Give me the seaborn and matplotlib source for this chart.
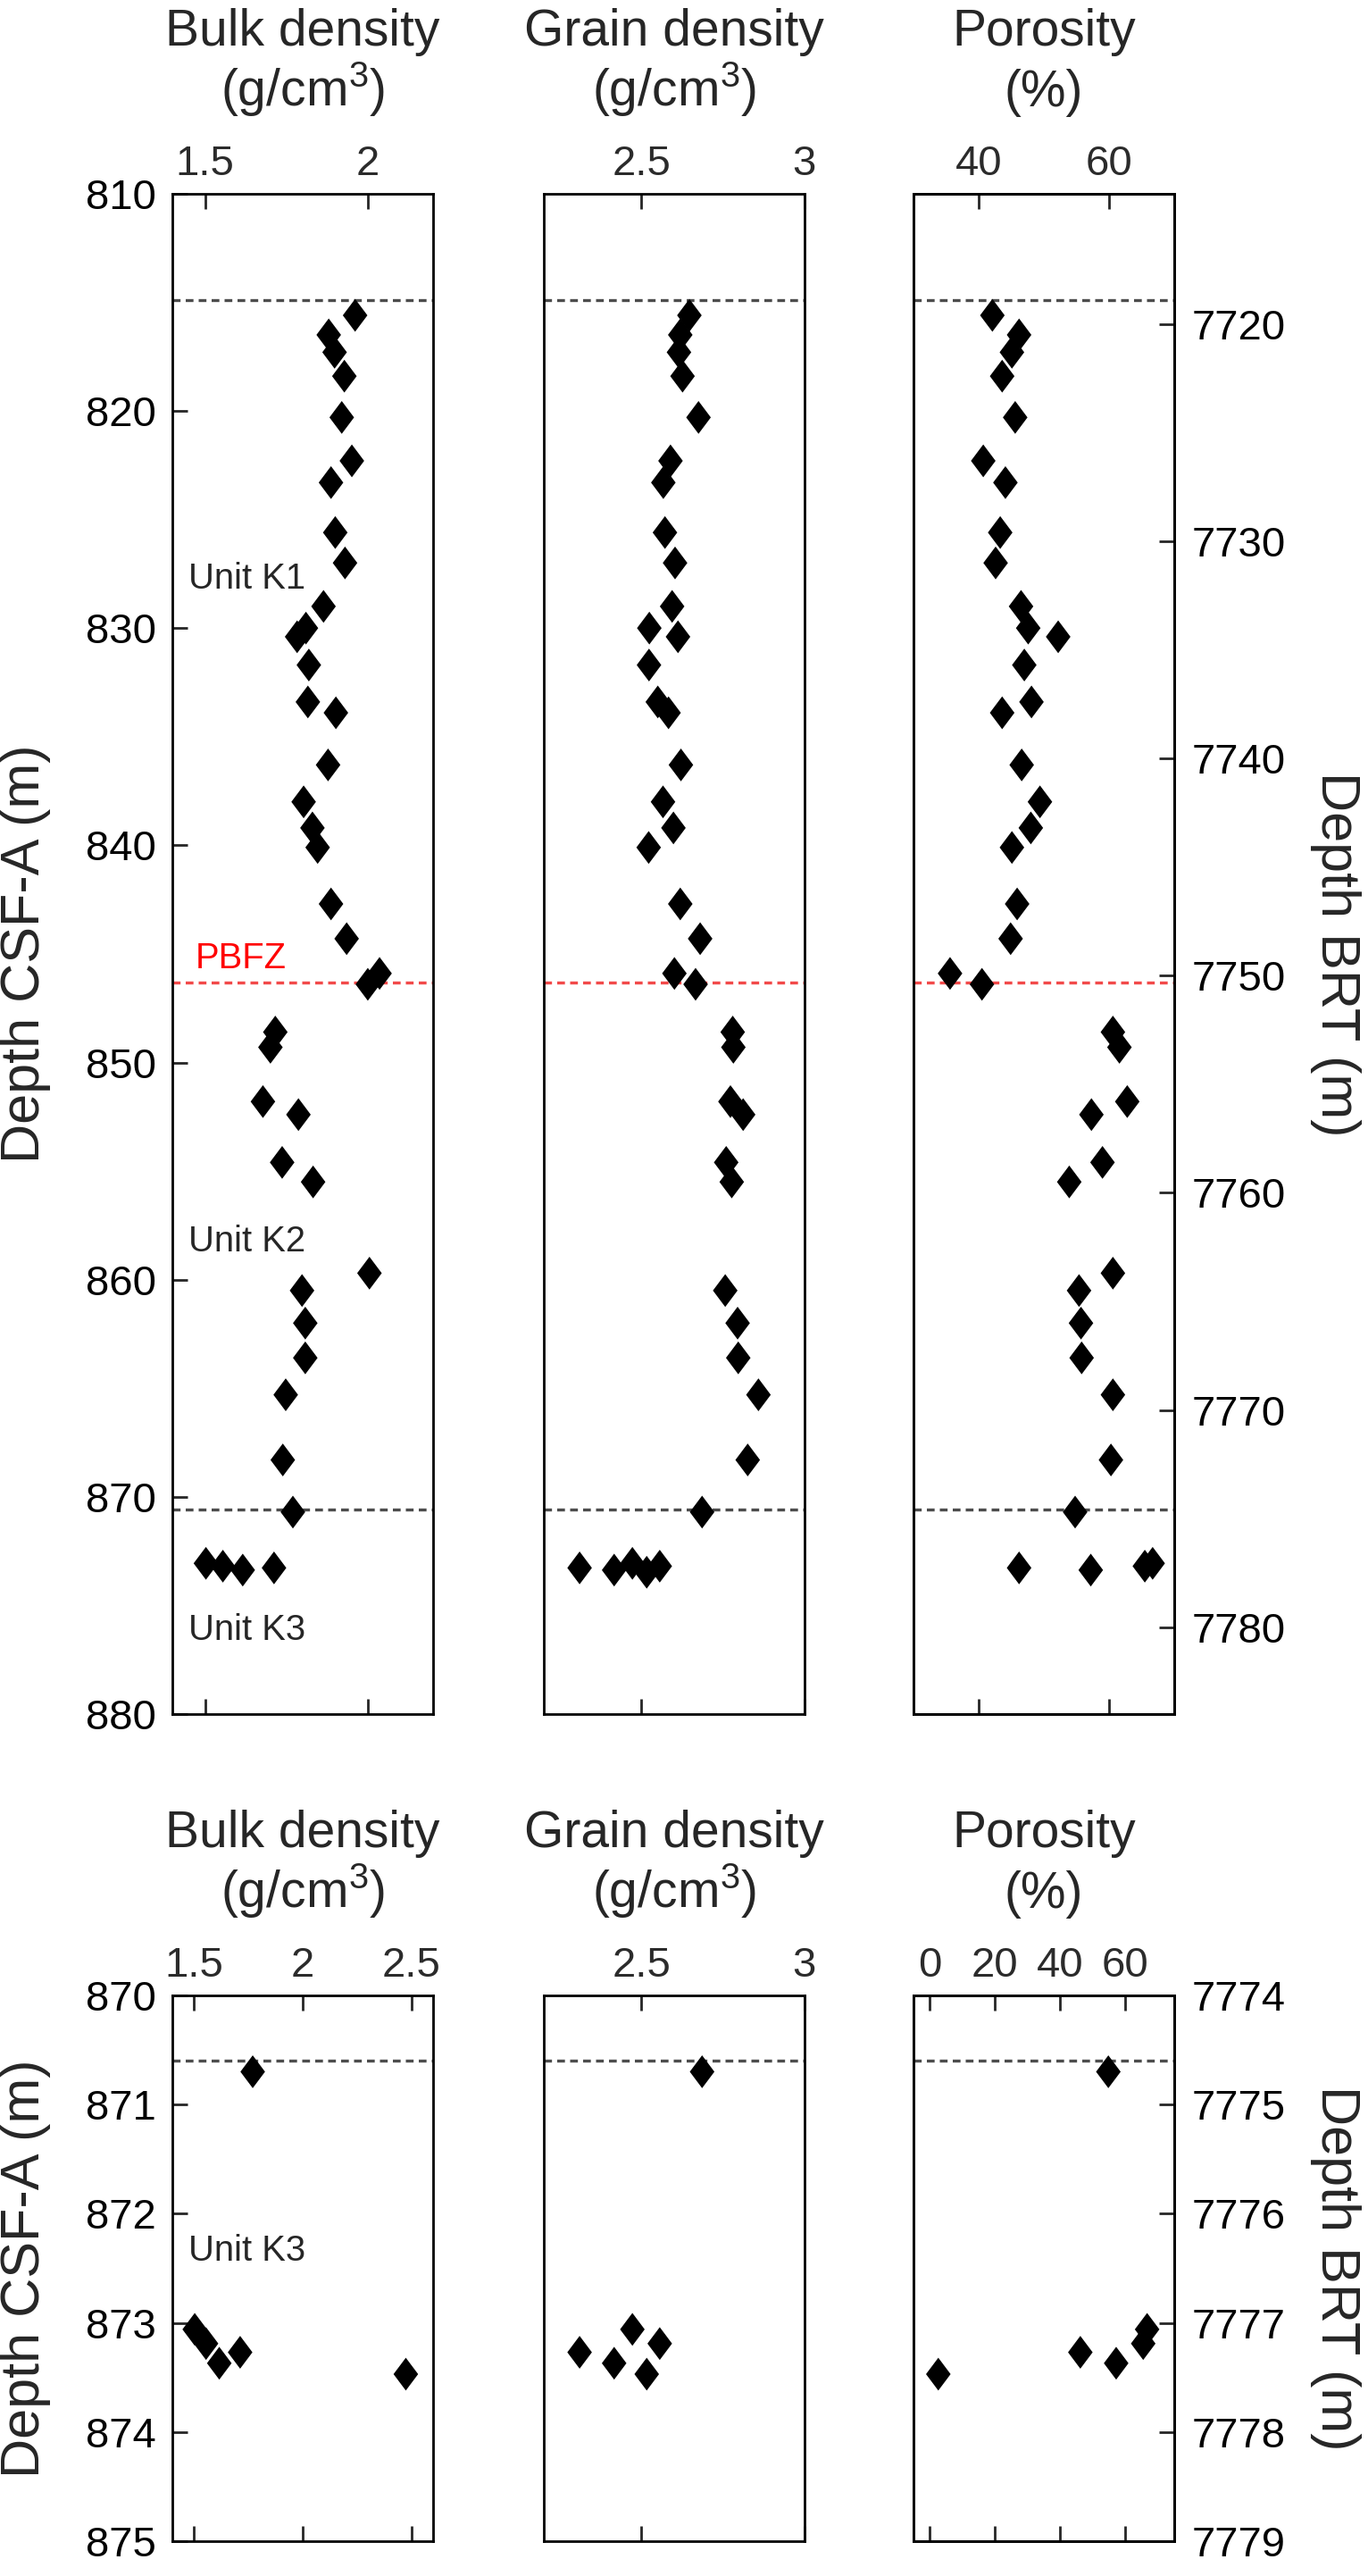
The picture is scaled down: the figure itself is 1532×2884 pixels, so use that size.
import numpy as np
import pandas as pd
import matplotlib
matplotlib.use("Agg")
import matplotlib.pyplot as plt
import seaborn as sns
from matplotlib.ticker import FormatStrFormatter

# ---------------- data ----------------
depth_csf = [815.6, 816.5, 817.3, 818.4, 820.3, 822.3, 823.3, 825.6, 827.0, 829.0,
             830.0, 830.4, 831.7, 833.4, 833.9, 836.3, 838.0, 839.2, 840.1, 842.7,
             844.3, 845.9, 846.4, 848.6, 849.3, 851.8, 852.4, 854.6, 855.5, 859.7,
             860.5, 862.0, 863.6, 865.3, 868.3,
             870.70, 873.06, 873.19, 873.27, 873.37, 873.47]

bulk_density = [1.961, 1.880, 1.898, 1.928, 1.920, 1.951, 1.887, 1.900, 1.930, 1.864,
                1.810, 1.783, 1.819, 1.816, 1.902, 1.878, 1.803, 1.830, 1.846, 1.887,
                1.935, 2.036, 2.000, 1.716, 1.701, 1.678, 1.787, 1.737, 1.832, 2.005,
                1.798, 1.808, 1.808, 1.748, 1.739,
                1.770, 1.503, 1.555, 1.712, 1.616, 2.475]

grain_density = [2.647, 2.619, 2.615, 2.626, 2.675, 2.589, 2.567, 2.572, 2.603, 2.594,
                 2.524, 2.612, 2.523, 2.550, 2.583, 2.621, 2.566, 2.598, 2.522, 2.619,
                 2.680, 2.601, 2.666, 2.780, 2.782, 2.773, 2.812, 2.760, 2.777, np.nan,
                 2.757, 2.795, 2.797, 2.859, 2.826,
                 2.686, 2.472, 2.556, 2.310, 2.416, 2.516]

porosity = [42.1, 46.2, 45.1, 43.6, 45.6, 40.7, 44.1, 43.3, 42.6, 46.5,
            47.6, 52.2, 47.0, 48.1, 43.6, 46.6, 49.4, 48.0, 45.1, 45.9,
            44.9, 35.6, 40.5, 60.6, 61.6, 62.8, 57.3, 59.0, 53.9, 60.6,
            55.4, 55.7, 55.8, 60.6, 60.3,
            54.8, 66.7, 65.5, 46.2, 57.2, 2.6]

brt_offset = 6904            # Depth BRT = Depth CSF-A + offset
unit_tops = [814.9, 870.6]   # black dashed boundaries
pbfz_depth = 846.3           # red dashed boundary

df = pd.DataFrame({"depth": depth_csf, "bulk": bulk_density,
                   "grain": grain_density, "porosity": porosity})

title_line1 = ["Bulk density", "Grain density", "Porosity"]
title_line2 = ["(g/cm$^3$)", "(g/cm$^3$)", "(%)"]
columns = ["bulk", "grain", "porosity"]
top_xlims = [(1.4, 2.2), (2.2, 3.0), (30, 70)]
top_xticks = [[1.5, 2], [2.5, 3], [40, 60]]
bot_xlims = [(1.4, 2.6), (2.2, 3.0), (-5, 75)]
bot_xticks = [[1.5, 2, 2.5], [2.5, 3], [0, 20, 40, 60]]

# ---------------- style ----------------
sns.set_style("white")
plt.rcParams["font.family"] = ["Liberation Sans", "DejaVu Sans"]
plt.rcParams["mathtext.fontset"] = "custom"
plt.rcParams["mathtext.rm"] = "Liberation Sans"
plt.rcParams["mathtext.it"] = "Liberation Sans:italic"
plt.rcParams["axes.linewidth"] = 1.0
plt.rcParams["axes.edgecolor"] = "black"

diamond = [(0, 1), (0.75, 0), (0, -1), (-0.75, 0)]
marker_area = 175
dash = (0, (2.6, 1.75))
tick_size = 17

fig = plt.figure(figsize=(7.66, 14.42), dpi=200)
lefts = [0.126, 0.3975, 0.6678]
width = 0.1905
rows = [(0.3346, 0.5902, (880, 810), np.arange(810, 881, 10), True),
        (0.01352, 0.2119, (875, 870), np.arange(870, 876, 1), False)]

for (bottom, height, ylim, yticks, is_top) in rows:
    for i, col in enumerate(columns):
        ax = fig.add_axes([lefts[i], bottom, width, height])
        sns.scatterplot(data=df, x=col, y="depth", ax=ax, marker=diamond,
                        s=marker_area, color="black", edgecolor="none",
                        linewidth=0, legend=False, zorder=3)
        xlim = top_xlims[i] if is_top else bot_xlims[i]
        xticks = top_xticks[i] if is_top else bot_xticks[i]
        ax.set_xlim(*xlim)
        ax.set_ylim(*ylim)
        ax.set_xticks(xticks)
        ax.xaxis.set_major_formatter(FormatStrFormatter("%g"))
        ax.set_xlabel("")
        ax.set_ylabel("")
        ax.tick_params(axis="x", direction="in", top=True, bottom=True,
                       labeltop=True, labelbottom=False, length=6, width=1.0,
                       pad=4, labelsize=tick_size, labelcolor="#2b2b2b")
        for sp in ax.spines.values():
            sp.set_color("black")
            sp.set_linewidth(1.0)

        # unit boundaries
        for d in unit_tops:
            ax.axhline(d, color="#4d4d4d", lw=1.2, ls=dash, zorder=1)
        if is_top:
            ax.axhline(pbfz_depth, color="#f24a4a", lw=1.2, ls=dash, zorder=1)

        # two-line column title above the top tick labels
        ax.annotate(title_line1[i], xy=(0.5, 1), xycoords="axes fraction",
                    xytext=(0, 59.8), textcoords="offset points",
                    ha="center", va="baseline", fontsize=20.5)
        ax.annotate(title_line2[i], xy=(0.5, 1), xycoords="axes fraction",
                    xytext=(0, 35.3), textcoords="offset points",
                    ha="center", va="baseline", fontsize=20.5)

        if i == 0:
            ax.set_yticks(yticks)
            ax.tick_params(axis="y", direction="in", left=True, right=False,
                           length=6, width=1.0, pad=6.5, labelsize=tick_size,
                           labelcolor="black")
            ax.set_ylabel("Depth CSF-A (m)", fontsize=22, labelpad=14)
            if is_top:
                ax.text(1.45, 828.2, "Unit K1", fontsize=14.4, va="baseline")
                ax.text(1.47, 845.65, "PBFZ", fontsize=14.4, va="baseline", color="red")
                ax.text(1.45, 858.7, "Unit K2", fontsize=14.4, va="baseline")
                ax.text(1.45, 876.6, "Unit K3", fontsize=14.4, va="baseline")
            else:
                ax.text(1.475, 872.43, "Unit K3", fontsize=14.4, va="baseline")
        else:
            ax.set_yticks([])
            ax.tick_params(axis="y", left=False, labelleft=False)

        if i == 2:
            ax2 = ax.twinx()
            ax2.set_ylim(ylim[0] + brt_offset, ylim[1] + brt_offset)
            step = 10 if is_top else 1
            lo = int(np.ceil((ylim[1] + brt_offset) / step) * step)
            ax2.set_yticks(np.arange(lo, ylim[0] + brt_offset + 0.5, step))
            ax2.yaxis.set_major_formatter(FormatStrFormatter("%d"))
            ax2.tick_params(axis="y", direction="in", right=True, left=False,
                            length=6, width=1.0, pad=7, labelsize=tick_size,
                            labelcolor="black")
            ax2.set_ylabel("Depth BRT (m)", fontsize=22, rotation=270,
                           va="bottom", labelpad=10)
            for sp in ax2.spines.values():
                sp.set_color("black")
                sp.set_linewidth(1.0)

fig.savefig("out.png", dpi=200, facecolor="white")
